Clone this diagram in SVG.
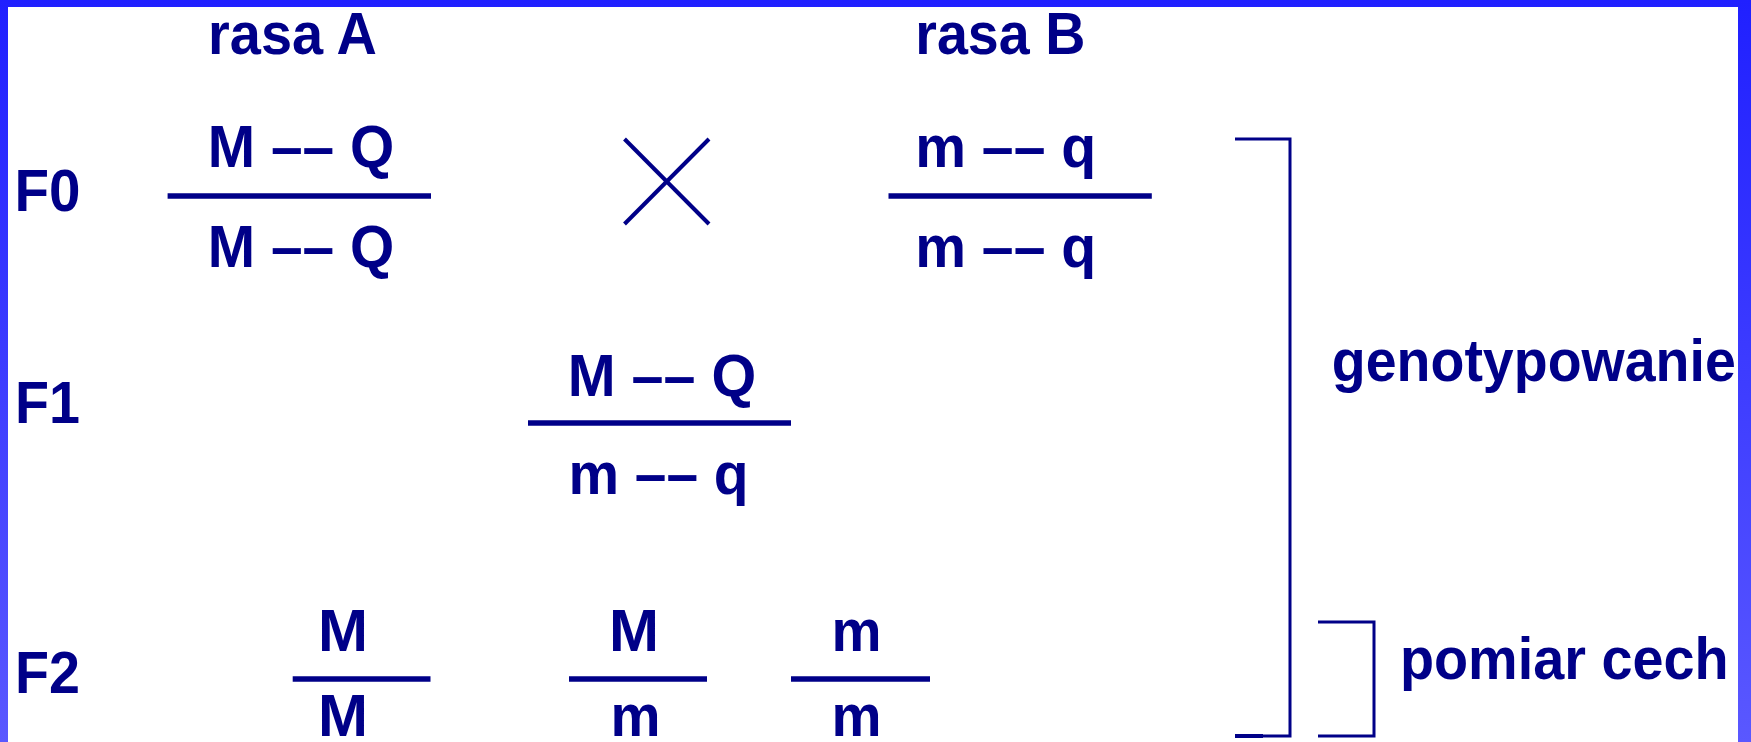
<svg xmlns="http://www.w3.org/2000/svg" width="1751" height="742" viewBox="0 0 1751 742">
  <defs>
    <linearGradient id="frameGrad" x1="0" y1="0" x2="0" y2="742" gradientUnits="userSpaceOnUse">
      <stop offset="0" stop-color="#2020ff"/>
      <stop offset="1" stop-color="#5a58ff"/>
    </linearGradient>
    <style>
      text { font-family: "Liberation Sans", Arial, sans-serif; font-weight: bold; font-size: 60px; fill: #000088; }
      .bar { stroke: #000088; stroke-width: 5.5; fill: none; }
      .br { stroke: #000088; stroke-width: 3; fill: none; }
      .mid { text-anchor: middle; }
    </style>
  </defs>
  <rect x="0" y="0" width="1751" height="742" fill="#ffffff"/>
  <g id="frame" fill="url(#frameGrad)">
    <rect x="0" y="0" width="1751" height="7"/>
    <rect x="0" y="0" width="8" height="742"/>
    <rect x="1738" y="0" width="13" height="742"/>
  </g>

  <g id="labels">
    <text x="208.1" y="54" textLength="168.9" lengthAdjust="spacingAndGlyphs">rasa A</text>
    <text x="915.3" y="54" textLength="170" lengthAdjust="spacingAndGlyphs">rasa B</text>
    <text x="14.5" y="211" textLength="66" lengthAdjust="spacingAndGlyphs">F0</text>
    <text x="15" y="423" textLength="65" lengthAdjust="spacingAndGlyphs">F1</text>
    <text x="15" y="693" textLength="65" lengthAdjust="spacingAndGlyphs">F2</text>
  </g>

  <g id="f0-rasaA">
    <text x="207.8" y="167" textLength="186.3" lengthAdjust="spacingAndGlyphs">M –– Q</text>
    <line class="bar" x1="167.6" y1="196" x2="431" y2="196"/>
    <text x="207.8" y="267" textLength="186.3" lengthAdjust="spacingAndGlyphs">M –– Q</text>
  </g>

  <g id="cross">
    <line x1="624.5" y1="139" x2="709" y2="224" stroke="#000088" stroke-width="4"/>
    <line x1="709" y1="139" x2="624.5" y2="224" stroke="#000088" stroke-width="4"/>
  </g>

  <g id="f0-rasaB">
    <text x="915.2" y="167" textLength="181" lengthAdjust="spacingAndGlyphs">m –– q</text>
    <line class="bar" x1="888.5" y1="196" x2="1151.8" y2="196"/>
    <text x="915.2" y="267" textLength="181" lengthAdjust="spacingAndGlyphs">m –– q</text>
  </g>

  <g id="f1">
    <text x="567.8" y="396" textLength="188.4" lengthAdjust="spacingAndGlyphs">M –– Q</text>
    <line class="bar" x1="528" y1="423" x2="791" y2="423"/>
    <text x="568.4" y="494" textLength="180.2" lengthAdjust="spacingAndGlyphs">m –– q</text>
  </g>

  <g id="f2-MM">
    <text class="mid" x="343" y="651">M</text>
    <line class="bar" x1="292.7" y1="679" x2="430.5" y2="679"/>
    <text class="mid" x="343" y="736">M</text>
  </g>

  <g id="f2-Mm">
    <text class="mid" x="634" y="651">M</text>
    <line class="bar" x1="569" y1="679" x2="707" y2="679"/>
    <text class="mid" x="635.5" y="736" textLength="50" lengthAdjust="spacingAndGlyphs">m</text>
  </g>

  <g id="f2-mm">
    <text class="mid" x="856.5" y="651" textLength="50" lengthAdjust="spacingAndGlyphs">m</text>
    <line class="bar" x1="791" y1="679" x2="930" y2="679"/>
    <text class="mid" x="856.5" y="736" textLength="50" lengthAdjust="spacingAndGlyphs">m</text>
  </g>

  <g id="genotypowanie">
    <text x="1331.8" y="381" textLength="404" lengthAdjust="spacingAndGlyphs">genotypowanie</text>
  </g>

  <g id="pomiar-cech">
    <text x="1399.9" y="679" textLength="328.7" lengthAdjust="spacingAndGlyphs">pomiar cech</text>
  </g>

  <g id="connectors">
    <path class="br" d="M1235,139 H1290 V736 H1235"/>
    <line x1="1235" y1="736" x2="1263" y2="736" stroke="#000088" stroke-width="4"/>
    <path class="br" d="M1318,622 H1374 V736 H1318"/>
  </g>
</svg>
